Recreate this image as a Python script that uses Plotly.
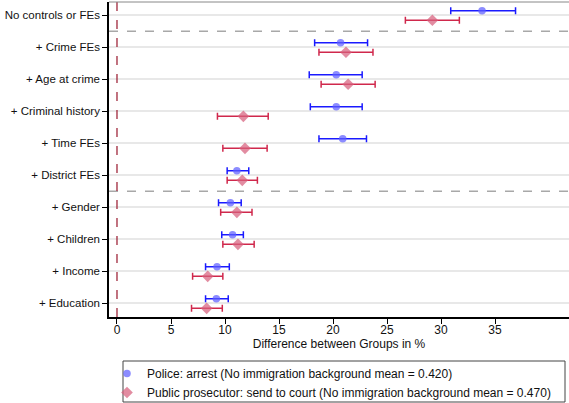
import plotly.graph_objects as go

categories = ["No controls or FEs", "+ Crime FEs", "+ Age at crime", "+ Criminal history",
              "+ Time FEs", "+ District FEs", "+ Gender", "+ Children", "+ Income", "+ Education"]

police_est = [33.8, 20.7, 20.3, 20.3, 20.9, 11.1, 10.5, 10.7, 9.26, 9.2]
police_lo = [30.9, 18.3, 17.8, 17.9, 18.7, 10.2, 9.4, 9.7, 8.2, 8.2]
police_hi = [36.9, 23.2, 22.7, 22.7, 23.1, 12.2, 11.5, 11.7, 10.4, 10.3]

pros_est = [29.2, 21.2, 21.4, 11.7, 11.85, 11.6, 11.1, 11.2, 8.4, 8.3]
pros_lo = [26.7, 18.7, 18.9, 9.3, 9.8, 10.2, 9.6, 9.8, 7.0, 6.9]
pros_hi = [31.7, 23.7, 23.9, 14.0, 13.9, 13.0, 12.5, 12.7, 9.8, 9.75]

x_ticks = [0, 5, 10, 15, 20, 25, 30, 35]
police_name = "Police: arrest (No immigration background mean = 0.420)"
pros_name = "Public prosecutor: send to court (No immigration background mean = 0.470)"

idx = list(range(len(categories)))
y_police = [i - 0.14 for i in idx]
y_pros = [i + 0.16 for i in idx]

W, H = 569, 403
ML, MR, MT, MB = 109, 0, 2, 86

fig = go.Figure()

fig.add_trace(go.Scatter(
    x=police_est, y=y_police, mode="markers", showlegend=False, hoverinfo="skip",
    marker=dict(size=1, color="rgba(0,0,0,0)"),
    error_x=dict(type="data", symmetric=False,
                 array=[h - e for h, e in zip(police_hi, police_est)],
                 arrayminus=[e - l for e, l in zip(police_est, police_lo)],
                 color="#1a1aff", thickness=1.5, width=3.5)))
fig.add_trace(go.Scatter(
    x=pros_est, y=y_pros, mode="markers", showlegend=False, hoverinfo="skip",
    marker=dict(size=1, color="rgba(0,0,0,0)"),
    error_x=dict(type="data", symmetric=False,
                 array=[h - e for h, e in zip(pros_hi, pros_est)],
                 arrayminus=[e - l for e, l in zip(pros_est, pros_lo)],
                 color="#d0284c", thickness=1.5, width=3.5)))
fig.add_trace(go.Scatter(
    x=police_est, y=y_police, mode="markers", name=police_name,
    marker=dict(symbol="circle", size=7.5, color="rgba(95,95,255,0.72)", line=dict(width=0))))
fig.add_trace(go.Scatter(
    x=pros_est, y=y_pros, mode="markers", name=pros_name,
    marker=dict(symbol="diamond", size=9, color="rgba(215,95,125,0.72)", line=dict(width=0))))

shapes = []
for yv in [0.5, 5.5]:
    shapes.append(dict(type="line", xref="paper", x0=0, x1=1, yref="y", y0=yv, y1=yv,
                       line=dict(color="#a8a8a8", width=1.5, dash="dash"), layer="below"))
shapes.append(dict(type="line", xref="x", x0=0, x1=0, yref="paper", y0=0, y1=1,
                   line=dict(color="#a0283c", width=1.3, dash="dash")))
shapes.append(dict(type="line", xref="paper", x0=0, x1=1, yref="paper", y0=1, y1=1,
                   line=dict(color="#888888", width=1)))

pw, ph = W - ML - MR, H - MT - MB
def px_x(p):
    return (p - ML) / pw
def px_y(p):
    return (H - MB - p) / ph
shapes.append(dict(type="rect", xref="paper", yref="paper",
                   x0=px_x(123), x1=px_x(565), y0=px_y(402), y1=px_y(361),
                   line=dict(color="#444444", width=1), fillcolor="rgba(0,0,0,0)"))

fig.update_layout(
    width=W, height=H,
    margin=dict(l=ML, r=MR, t=MT, b=MB, autoexpand=False),
    plot_bgcolor="white", paper_bgcolor="white",
    font=dict(family="Liberation Sans, Arial, sans-serif", size=12, color="#111"),
    shapes=shapes,
    xaxis=dict(range=[-0.74, 41.85], tickvals=x_ticks, showgrid=False, zeroline=False,
               showline=True, linecolor="black", linewidth=1.5,
               ticks="outside", ticklen=5, tickcolor="black", ticklabelstandoff=-4,
               title=dict(text="Difference between Groups in %", font=dict(size=12), standoff=0)),
    yaxis=dict(range=[9.43, -0.41], tickvals=idx, ticktext=categories,
               tickfont=dict(size=11.5),
               showgrid=True, gridcolor="#e8e8e8", gridwidth=1.5, zeroline=False,
               showline=True, linecolor="black", linewidth=1.5,
               ticks="outside", ticklen=5, tickcolor="black"),
    legend=dict(xref="container", yref="container", x=107 / W, y=1 - 359 / H,
                xanchor="left", yanchor="top",
                borderwidth=0, bgcolor="rgba(0,0,0,0)",
                font=dict(size=12), tracegroupgap=0, itemsizing="trace"),
    showlegend=True,
)

fig.write_html("out.html")
